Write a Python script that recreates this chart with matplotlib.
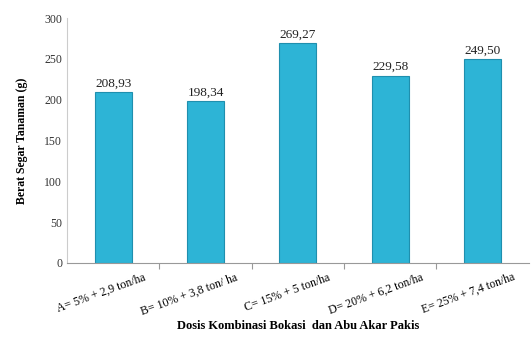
import matplotlib.pyplot as plt
import matplotlib.transforms as mtransforms

categories = ['A= 5% + 2,9 ton/ha', 'B= 10% + 3,8 ton/ ha', 'C= 15% + 5 ton/ha',
              'D= 20% + 6,2 ton/ha', 'E= 25% + 7,4 ton/ha']
values = [208.93, 198.34, 269.27, 229.58, 249.50]
value_labels = ['208,93', '198,34', '269,27', '229,58', '249,50']
yticks = [0, 50, 100, 150, 200, 250, 300]

plt.rcParams['font.family'] = ['Liberation Serif', 'DejaVu Serif']

fig = plt.figure(figsize=(5.32, 3.41), dpi=100)
ax = fig.add_axes([0.126, 0.229, 0.868, 0.718])

x = range(len(values))
bars = ax.bar(x, values, width=0.4, color='#2db4d6', edgecolor='#1f8fae', linewidth=0.8)
for xi, v, lab in zip(x, values, value_labels):
    ax.text(xi, v + 3, lab, ha='center', va='bottom', fontsize=9.5, color='#222222')

ax.set_xlim(-0.5, len(values) - 0.5)
ax.set_ylim(0, 300)
ax.set_yticks(yticks)
ax.tick_params(axis='y', length=0, labelsize=8.5, colors='#333333')
ax.set_xticks([i + 0.5 for i in range(len(values) - 1)], minor=False)
ax.set_xticklabels([])
ax.set_xticks(list(x), minor=True)
ax.set_xticklabels(categories, minor=True, rotation=20, ha='right', fontsize=8.5,
                   rotation_mode='anchor')
ax.tick_params(axis='x', which='minor', length=0, pad=6)
ax.tick_params(axis='x', which='major', length=4, color='#999999', direction='out')

# nudge the category labels to the right, as in the original
shift = mtransforms.ScaledTranslation(30 / 100, 0, fig.dpi_scale_trans)
for lbl in ax.get_xticklabels(minor=True):
    lbl.set_transform(lbl.get_transform() + shift)

for s in ['top', 'right']:
    ax.spines[s].set_visible(False)
ax.spines['left'].set_color('#cccccc')
ax.spines['bottom'].set_color('#999999')

ax.set_ylabel('Berat Segar Tanaman (g)', fontsize=8.5, fontweight='bold', labelpad=12)
ax.set_xlabel('Dosis Kombinasi Bokasi  dan Abu Akar Pakis', fontsize=9, fontweight='bold', labelpad=2)

fig.savefig('out.png', dpi=100)
